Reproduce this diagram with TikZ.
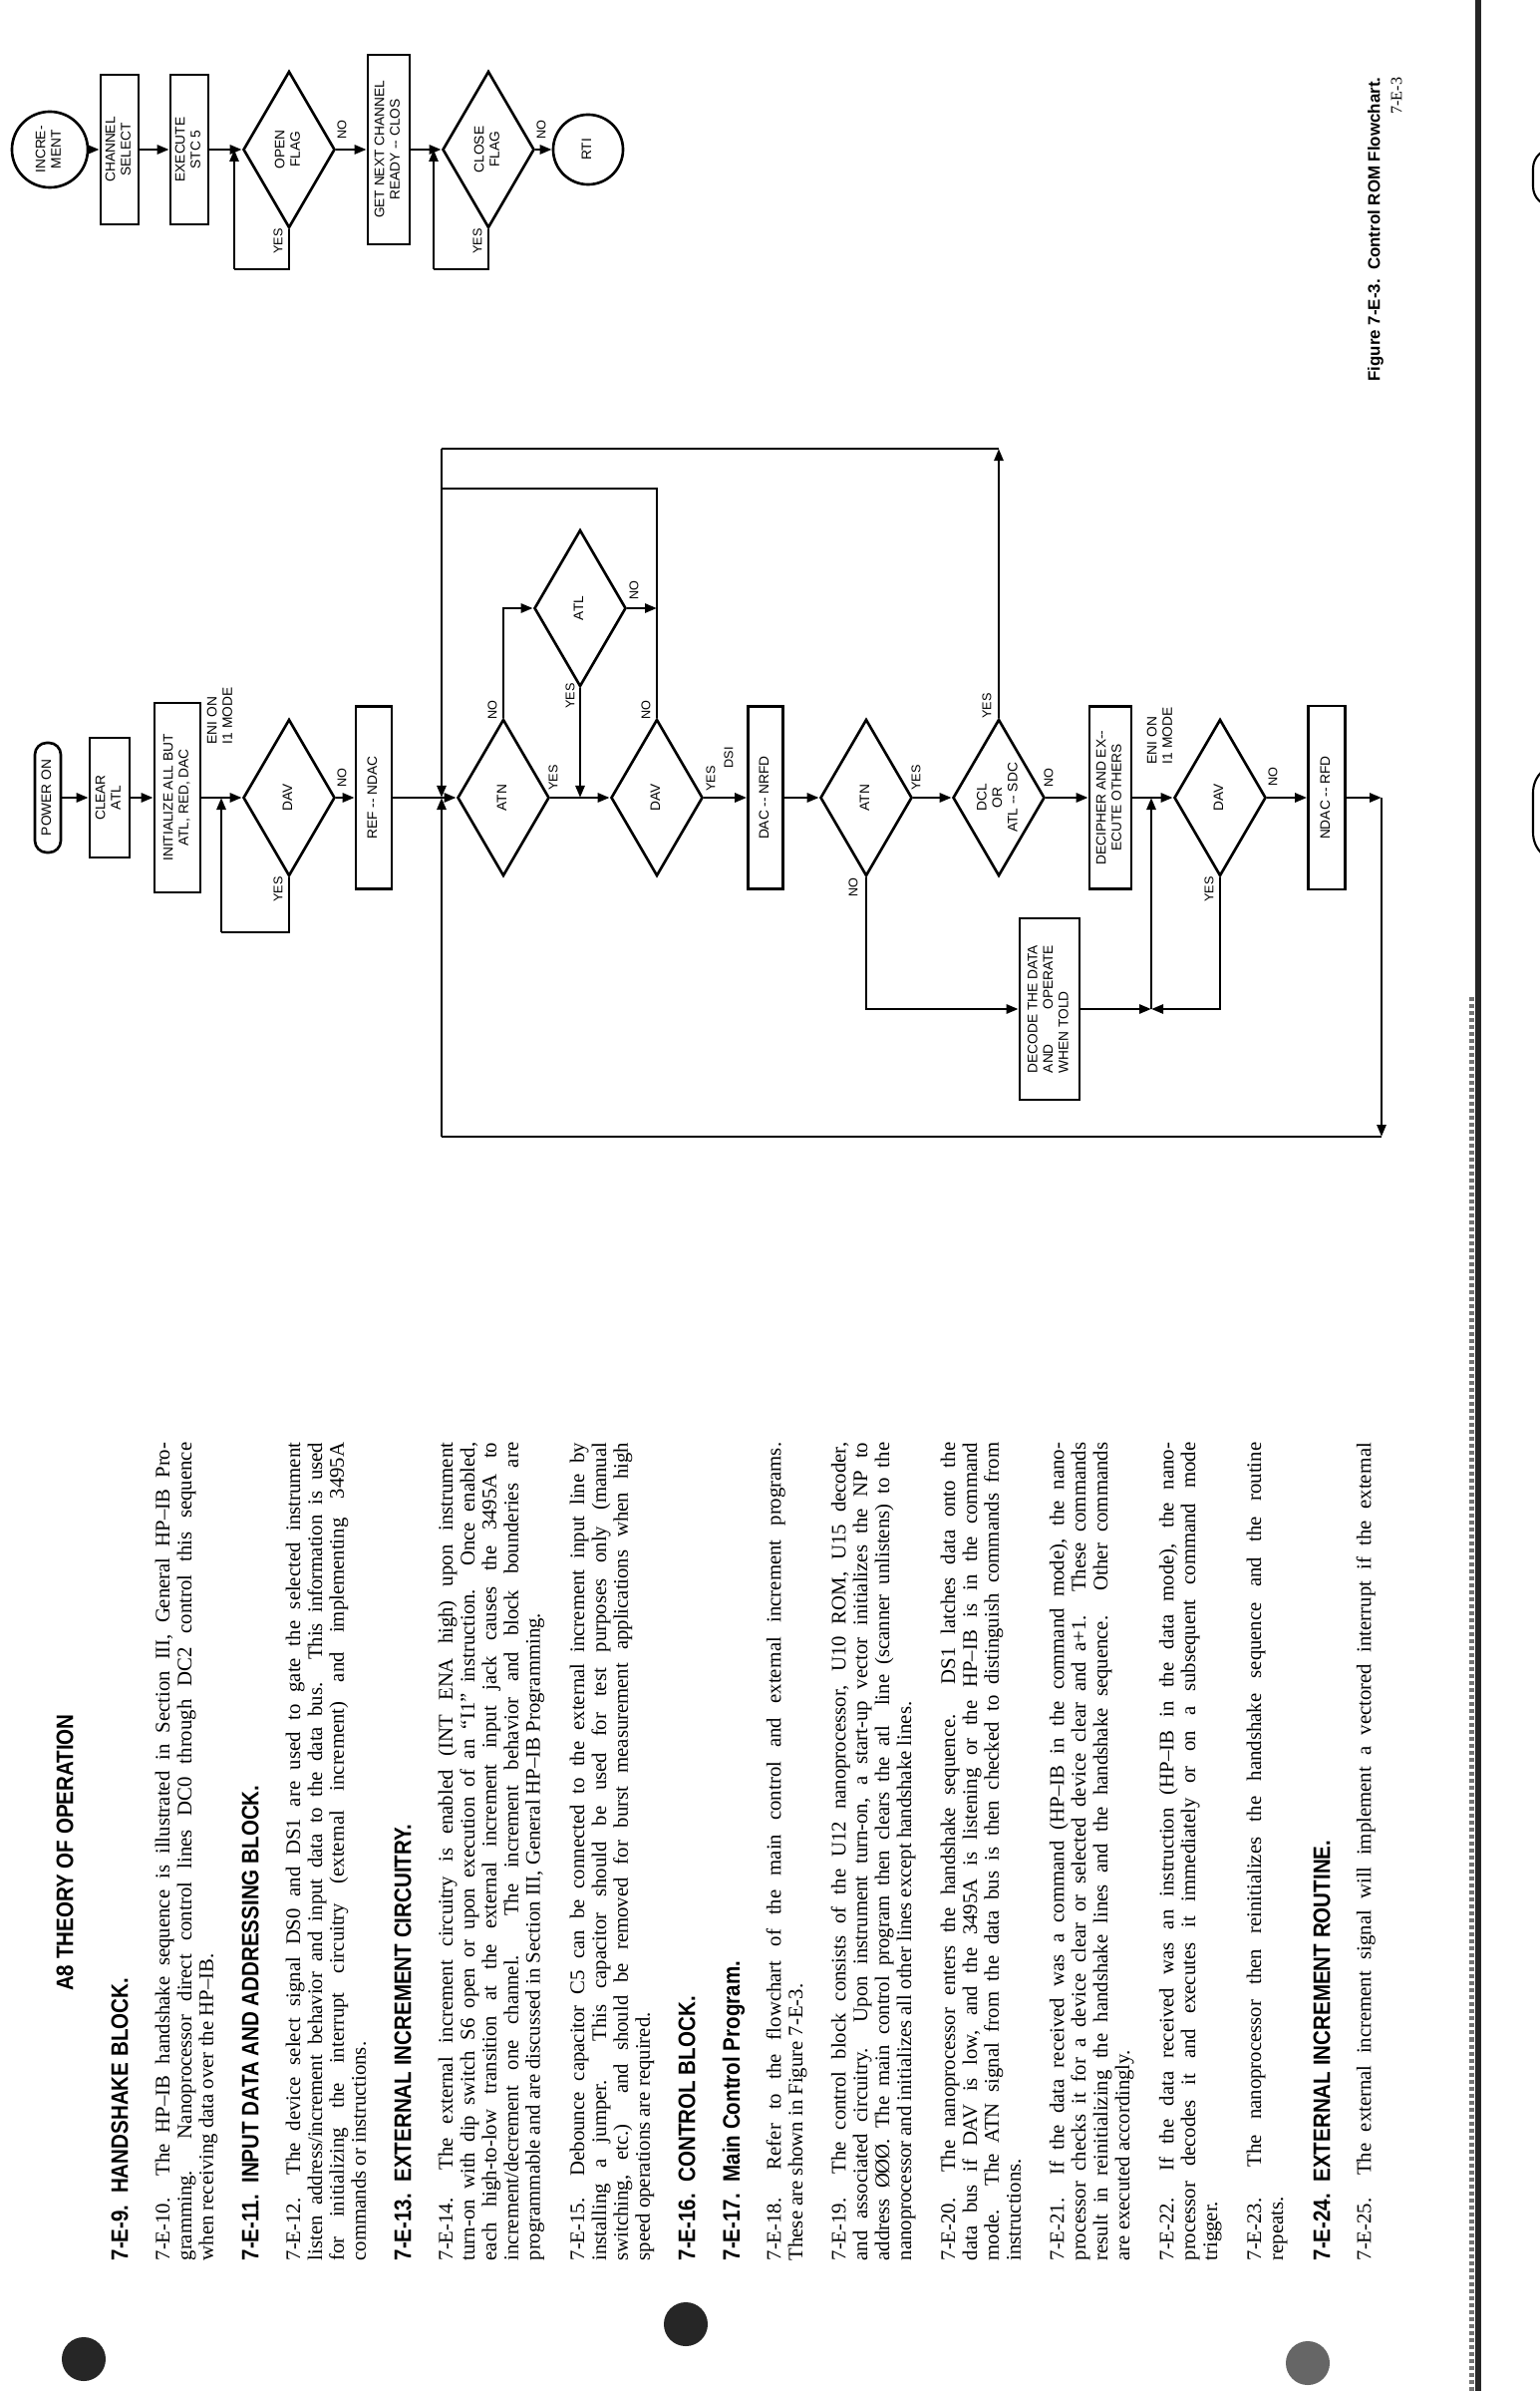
\documentclass[tikz,border=0pt]{standalone}
\usepackage{fontspec}
\setmainfont{Liberation Serif}
\newfontfamily\fcfont{Liberation Sans}
\newfontfamily\hdfont[FakeStretch=0.86]{Liberation Sans}
\usetikzlibrary{shapes.geometric,arrows.meta}
\newlength\colw
\setlength\colw{8.2cm}
\newlength\decw
\newcommand\jl[1]{\makebox[\colw][s]{#1}}
\newcommand\el[1]{\makebox[\colw][l]{#1}}
\newcommand\rt[1]{\rotatebox{90}{\begin{tabular}{@{}c@{}}#1\end{tabular}}}
\newcommand\rtl[1]{\rotatebox{90}{\begin{tabular}{@{}l@{}}#1\end{tabular}}}
\begin{document}
\settowidth{\decw}{\fcfont\fontsize{3.9}{4.4}\selectfont DECODE THE DATA}
\begin{tikzpicture}[x=0.01cm,y=0.01cm,
  ln/.style={line width=0.75pt},
  ar/.style={line width=0.75pt,-{Triangle[length=0.12cm,width=0.09cm]}},
  fc/.style={font=\fcfont\fontsize{3.9}{4.4}\selectfont},
  box/.style={draw,line width=0.75pt,inner sep=0pt,fc},
  dia/.style={draw,diamond,line width=0.75pt,inner sep=0pt,fc,shape aspect=0.586,minimum width=0.92cm,minimum height=1.57cm},
  circ/.style={draw,circle,line width=0.75pt,inner sep=0pt,fc},
  lab/.style={inner sep=0pt,rotate=90,font=\fcfont\fontsize{3.6}{4.2}\selectfont},
  para/.style={rotate=90,anchor=north west,inner sep=0pt,align=left,font=\fontsize{5.9}{6.23}\selectfont},
  hd/.style={rotate=90,anchor=north west,inner sep=0pt,font=\hdfont\bfseries\fontsize{6.8}{8}\selectfont}]
\useasboundingbox (0,0) rectangle (1544,-2398);
\fill[white] (0,0) rectangle (1544,-2398);

% page edge
\draw[line width=0.06cm,black!85] (1483,0) -- (1483,-2398);
\draw[line width=0.05cm,black!55,dash pattern=on 0.04cm off 0.03cm] (1476,-1000) -- (1476,-2398);
\draw[line width=0.6pt,rounded corners=0.2cm] (1600,-149) -- (1538,-149) -- (1538,-207) -- (1600,-207);
\draw[line width=0.6pt,rounded corners=0.3cm] (1600,-765) -- (1538,-765) -- (1538,-865) -- (1600,-865);
% punch holes
\fill[black!85] (84,-2366) circle[radius=0.22cm];
\fill[black!85] (688,-2331) circle[radius=0.22cm];
\fill[black!60] (1312,-2370) circle[radius=0.22cm];

% ---------------- text column ----------------
\node[rotate=90,anchor=north,inner sep=0pt,font=\hdfont\bfseries\fontsize{6.8}{8}\selectfont] (a8) at (56,-1858) {A8 THEORY OF OPERATION};
\node[hd] (h9) at (111,-2268) {7-E-9.\ \ HANDSHAKE BLOCK.};
\node[para] (p10) at (155,-2268) {\jl{7-E-10.\ \ The HP--IB handshake sequence is illustrated in Section III, General HP--IB Pro-}\\
\jl{gramming. Nanoprocessor direct control lines DC0 through DC2 control this sequence}\\
\el{when receiving data over the HP--IB.}};
\node[hd] (h11) at (242,-2268) {7-E-11.\ \ INPUT DATA AND ADDRESSING BLOCK.};
\node[para] (p12) at (286,-2268) {\jl{7-E-12.\ \ The device select signal DS0 and DS1 are used to gate the selected instrument}\\
\jl{listen address/increment behavior and input data to the data bus. This information is used}\\
\jl{for initializing the interrupt circuitry (external increment) and implementing 3495A}\\
\el{commands or instructions.}};
\node[hd] (h13) at (395,-2268) {7-E-13.\ \ EXTERNAL INCREMENT CIRCUITRY.};
\node[para] (p14) at (439,-2268) {\jl{7-E-14.\ \ The external increment circuitry is enabled (INT ENA high) upon instrument}\\
\jl{turn-on with dip switch S6 open or upon execution of an ``I1'' instruction. Once enabled,}\\
\jl{each high-to-low transition at the external increment input jack causes the 3495A to}\\
\jl{increment/decrement one channel. The increment behavior and block bounderies are}\\
\el{programmable and are discussed in Section III, General HP--IB Programming.}};
\node[para] (p15) at (571,-2268) {\jl{7-E-15.\ \ Debounce capacitor C5 can be connected to the external increment input line by}\\
\jl{installing a jumper. This capacitor should be used for test purposes only (manual}\\
\jl{switching, etc.) and should be removed for burst measurement applications when high}\\
\el{speed operations are required.}};
\node[hd] (h16) at (680,-2268) {7-E-16.\ \ CONTROL BLOCK.};
\node[hd] (h17) at (724,-2268) {7-E-17.\ \ Main Control Program.};
\node[para] (p18) at (768,-2268) {\jl{7-E-18.\ \ Refer to the flowchart of the main control and external increment programs.}\\
\el{These are shown in Figure 7-E-3.}};
\node[para] (p19) at (833,-2268) {\jl{7-E-19.\ \ The control block consists of the U12 nanoprocessor, U10 ROM, U15 decoder,}\\
\jl{and associated circuitry. Upon instrument turn-on, a start-up vector initializes the NP to}\\
\jl{address ØØØ. The main control program then clears the atl\ \ line (scanner unlistens) to the}\\
\el{nanoprocessor and initializes all other lines except handshake lines.}};
\node[para] (p20) at (943,-2268) {\jl{7-E-20.\ \ The nanoprocessor enters the handshake sequence. DS1 latches data onto the}\\
\jl{data bus if DAV is low, and the 3495A is listening or the HP--IB is in the command}\\
\jl{mode. The ATN signal from the data bus is then checked to distinguish commands from}\\
\el{instructions.}};
\node[para] (p21) at (1052,-2268) {\jl{7-E-21.\ \ If the data received was a command (HP--IB in the command mode), the nano-}\\
\jl{processor checks it for a device clear or selected device clear and a+1. These commands}\\
\jl{result in reinitializing the handshake lines and the handshake sequence. Other commands}\\
\el{are executed accordingly.}};
\node[para] (p22) at (1162,-2268) {\jl{7-E-22.\ \ If the data received was an instruction (HP--IB in the data mode), the nano-}\\
\jl{processor decodes it and executes it immediately or on a subsequent command mode}\\
\el{trigger.}};
\node[para] (p23) at (1250,-2268) {\jl{7-E-23.\ \ The nanoprocessor then reinitializes the handshake sequence and the routine}\\
\el{repeats.}};
\node[hd] (h24) at (1317,-2268) {7-E-24.\ \ EXTERNAL INCREMENT ROUTINE.};
\node[para] (p25) at (1360,-2268) {\jl{7-E-25.\ \ The external increment signal will implement a vectored interrupt if the external}};

% caption
\node[rotate=90,anchor=east,inner sep=0pt,font=\fcfont\bfseries\fontsize{4.8}{5.4}\selectfont] (cap) at (1380,-77) {Figure 7-E-3.\ \ Control ROM Flowchart.};
\node[rotate=90,anchor=east,inner sep=0pt,font=\fontsize{4.6}{5}\selectfont] (pg) at (1401,-77) {7-E-3};

% ---------------- increment routine ----------------
\node[circ,minimum size=0.76cm] (inc) at (50,-150) {\rt{INCRE-\\MENT}};
\node[box,minimum width=0.38cm,minimum height=1.5cm] (chs) at (120,-150) {\rt{CHANNEL\\SELECT}};
\node[box,minimum width=0.38cm,minimum height=1.5cm] (exe) at (190,-150) {\rt{EXECUTE\\STC 5}};
\node[dia] (opf) at (290,-150) {\rt{OPEN\\FLAG}};
\node[box,minimum width=0.42cm,minimum height=1.9cm] (gnc) at (390,-150) {\rt{GET NEXT CHANNEL\\READY -- CLOS}};
\node[dia] (clf) at (490,-150) {\rt{CLOSE\\FLAG}};
\node[circ,minimum size=0.7cm] (rti) at (590,-150) {\rt{RTI}};
\coordinate (o1) at (235,-150); \coordinate (o2) at (235,-270);
\coordinate (c1) at (435,-150); \coordinate (c2) at (435,-270);
\draw[ar] (inc) -- (chs);
\draw[ar] (chs) -- (exe);
\draw[ar] (exe) -- (opf);
\draw[ln] (opf.south) |- (o2);
\draw[ar] (o2) -- (o1);
\draw[ar] (opf) -- (gnc);
\draw[ar] (gnc) -- (clf);
\draw[ln] (clf.south) |- (c2);
\draw[ar] (c2) -- (c1);
\draw[ar] (clf) -- (rti);
\node[lab] (oy) at (279,-242) {YES};
\node[lab] (on) at (343,-130) {NO};
\node[lab] (cy) at (479,-242) {YES};
\node[lab] (cn) at (543,-130) {NO};

% ---------------- main control program ----------------
\node[box,rounded corners=0.12cm,minimum width=0.26cm,minimum height=1.1cm] (pwr) at (48,-800) {\rt{POWER ON}};
\node[box,minimum width=0.40cm,minimum height=1.2cm] (clr) at (110,-800) {\rt{CLEAR\\ATL}};
\node[box,minimum width=0.46cm,minimum height=1.9cm] (init) at (178,-800) {\rt{INITIALIZE ALL BUT\\ATL, RED, DAC}};
\node[inner sep=0pt,fc] (eni1) at (222,-718) {\rtl{ENI ON\\I1 MODE}};
\node[dia] (dav1) at (290,-800) {\rt{DAV}};
\node[box,minimum width=0.36cm,minimum height=1.83cm] (ref) at (375,-800) {\rt{REF -- NDAC}};
\coordinate (m) at (443,-800);
\node[dia] (atn1) at (505,-800) {\rt{ATN}};
\node[dia] (atl) at (582,-610) {\rt{ATL}};
\node[dia] (dav2) at (659,-800) {\rt{DAV}};
\node[box,minimum width=0.35cm,minimum height=1.83cm] (dacn) at (768,-800) {\rt{DAC -- NRFD}};
\node[dia] (atn2) at (869,-800) {\rt{ATN}};
\node[dia] (dcl) at (1002,-800) {\rt{DCL\\OR\\ATL -- SDC}};
\node[box,minimum width=0.42cm,minimum height=1.83cm] (deci) at (1114,-800) {\rt{DECIPHER AND EX--\\ECUTE OTHERS}};
\node[box,minimum width=0.60cm,minimum height=1.82cm] (dec) at (1053,-1012) {\rotatebox{90}{\begin{tabular}{@{}l@{}}DECODE THE DATA\\\makebox[\decw]{AND\hfill OPERATE}\\WHEN TOLD\end{tabular}}};
\node[dia] (dav3) at (1224,-800) {\rt{DAV}};
\node[inner sep=0pt,fc] (eni2) at (1165,-738) {\rtl{ENI ON\\I1 MODE}};
\node[box,minimum width=0.37cm,minimum height=1.84cm] (ndac) at (1331,-800) {\rt{NDAC -- RFD}};

\coordinate (l1) at (222,-800); \coordinate (l1b) at (222,-935);
\coordinate (ay) at (582,-800);
\coordinate (an) at (659,-610);
\coordinate (dn) at (659,-490); \coordinate (dn2) at (443,-490);
\coordinate (j) at (1155,-800); \coordinate (j2) at (1155,-1012);
\coordinate (r1) at (1386,-800); \coordinate (r2) at (1386,-1140); \coordinate (b1) at (443,-1140);
\coordinate (t1) at (1002,-450); \coordinate (t2) at (443,-450);

\draw[ar] (pwr) -- (clr);
\draw[ar] (clr) -- (init);
\draw[ar] (init) -- (dav1);
\draw[ln] (dav1.south) |- (l1b);
\draw[ar] (l1b) -- (l1);
\draw[ar] (dav1) -- (ref);
\draw[ln] (ref) -- (m);
\draw[ar] (m) -- (atn1);
\draw[ar] (atn1) -- (dav2);
\draw[ar] (atn1.north) |- (atl.west);
\draw[ar] (atl.south) -- (ay);
\draw[ar] (atl.east) -- (an);
\draw[ln] (dav2.north) -- (dn) -- (dn2);
\draw[ar] (dav2) -- (dacn);
\draw[ar] (dacn) -- (atn2);
\draw[ar] (atn2) -- (dcl);
\draw[ar] (dcl) -- (deci);
\draw[ln] (deci) -- (j);
\draw[ar] (j) -- (dav3);
\draw[ar] (atn2.south) |- (dec.west);
\draw[ar] (dec) -- (j2);
\draw[ar] (dav3.south) |- (j2);
\draw[ar] (j2) -- (j);
\draw[ar] (dav3) -- (ndac);
\draw[ar] (ndac) -- (r1);
\draw[ar] (r1) -- (r2);
\draw[ln] (r2) -- (b1);
\draw[ar] (b1) -- (m);
\draw[ar] (dcl.north) -- (t1);
\draw[ln] (t1) -- (t2);
\draw[ar] (t2) -- (m);

\node[lab] (y1) at (279,-892) {YES};
\node[lab] (n1) at (343,-780) {NO};
\node[lab] (y2) at (555,-780) {YES};
\node[lab] (n2) at (494,-712) {NO};
\node[lab] (y3) at (572,-698) {YES};
\node[lab] (n3) at (636,-592) {NO};
\node[lab] (n4) at (648,-712) {NO};
\node[lab] (y4) at (713,-781) {YES};
\node[lab] (dsi) at (731,-760) {DSI};
\node[lab] (y5) at (919,-780) {YES};
\node[lab] (n5) at (856,-890) {NO};
\node[lab] (y6) at (990,-708) {YES};
\node[lab] (n6) at (1052,-780) {NO};
\node[lab] (y7) at (1213,-892) {YES};
\node[lab] (n7) at (1277,-779) {NO};
\end{tikzpicture}
\end{document}
